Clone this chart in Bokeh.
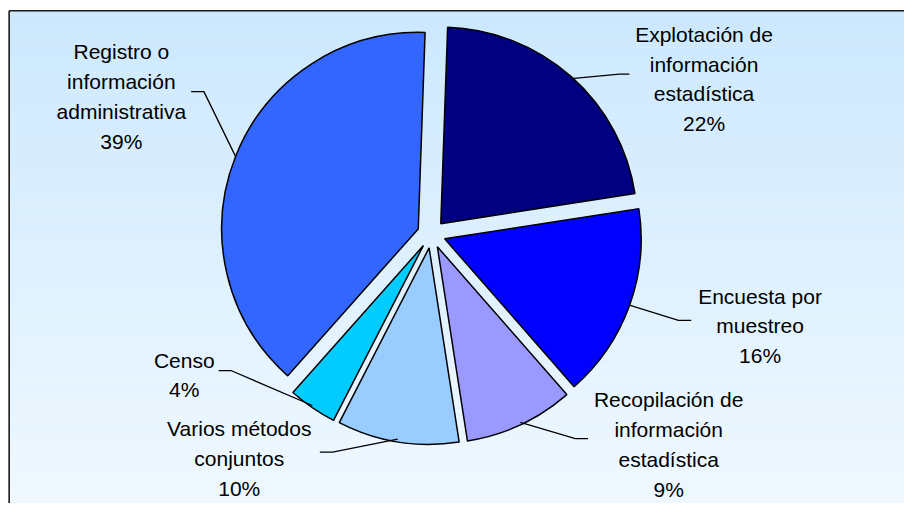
import numpy as np
from bokeh.plotting import figure
from bokeh.models import Range1d, ColumnDataSource
from bokeh.core.properties import value
from bokeh.embed import file_html
from bokeh.resources import INLINE

# ---------------- data ----------------
categories = [
    "Explotación de información estadística",
    "Encuesta por muestreo",
    "Recopilación de información estadística",
    "Varios métodos conjuntos",
    "Censo",
    "Registro o información administrativa",
]
label_lines = [
    ["Explotación de", "información", "estadística"],
    ["Encuesta por", "muestreo"],
    ["Recopilación de", "información", "estadística"],
    ["Varios métodos", "conjuntos"],
    ["Censo"],
    ["Registro o", "información", "administrativa"],
]
values = [22, 16, 9, 10, 4, 39]
colors = ["#000080", "#0000FF", "#9999FF", "#99CCFF", "#00CCFF", "#3366FF"]

# ---------------- layout (in units of the 920x519 chart image) ----------------
RW, RH = 920, 519          # chart image units
W, H = 904, 503            # figure size in px (fits the window)


def X(sx):
    return sx


def Y(sy):
    return RH - sy


CX, CY = 438.5, 241.0   # pie centre
R = 200.0
EXPLODE = 14.4
FIRST_ANGLE = 2.0
FONT = "Liberation Sans"
FS = "21px"
LINE_STEP = 30.7

# label centre x and first baseline, leader elbow and end
label_pos = [(716, 35), (773, 305), (680, 412), (243, 442), (187, 371), (123, 53)]
leader_elbow = [(630, 76), (690, 330), (585, 452), (338, 466), (235, 382), (207, 94)]
leader_end = [(640, 76), (703, 330), (598, 452), (325, 466), (222, 382), (194, 94)]

p = figure(width=W, height=H, output_backend="svg", toolbar_location=None,
           x_range=Range1d(0, RW), y_range=Range1d(0, RH), min_border=0,
           background_fill_color="white", border_fill_color="white")
p.axis.visible = False
p.grid.visible = False
p.outline_line_color = None

# ---------------- gradient background of the chart area ----------------
top_c = np.array([0xCC, 0xE8, 0xFE], dtype=float)
bot_c = np.array([0xEF, 0xF8, 0xFF], dtype=float)
n = 120
edges = np.linspace(10.5, RH + 2, n + 1)
cols = []
for i in range(n):
    t = i / (n - 1)
    c = top_c + (bot_c - top_c) * t
    cols.append("#%02x%02x%02x" % tuple(int(round(v)) for v in c))
p.quad(left=X(8.8), right=X(RW + 2), top=[Y(e) + 0.3 for e in edges[:-1]],
       bottom=[Y(e) for e in edges[1:]], fill_color=cols, line_color=None)
# chart border (left and top visible)
p.multi_line(xs=[[X(8.8), X(8.8)], [X(8.8), X(RW + 2)]],
             ys=[[Y(10.5), Y(RH + 5)], [Y(10.5), Y(10.5)]],
             line_color="#1a1a1a", line_width=1.6)

# ---------------- pie ----------------
vals = np.array(values, dtype=float)
spans = vals / vals.sum() * 360.0
starts = FIRST_ANGLE + np.concatenate([[0.0], np.cumsum(spans)[:-1]])
ends = starts + spans
mids = (starts + ends) / 2.0
mr = np.radians(mids)
wx = X(CX) + EXPLODE * np.sin(mr)
wy = Y(CY) + EXPLODE * np.cos(mr)

src = ColumnDataSource(dict(x=wx, y=wy, start=90.0 - ends, end=90.0 - starts,
                            color=colors, name=categories))
p.wedge(x="x", y="y", radius=R, start_angle="start", end_angle="end",
        start_angle_units="deg", end_angle_units="deg", direction="anticlock",
        fill_color="color", line_color="black", line_width=1.5, source=src)

# ---------------- leader lines ----------------
lx, ly = [], []
for i in range(len(values)):
    ax = wx[i] + R * np.sin(mr[i])
    ay = wy[i] + R * np.cos(mr[i])
    lx.append([ax, X(leader_elbow[i][0]), X(leader_end[i][0])])
    ly.append([ay, Y(leader_elbow[i][1]), Y(leader_end[i][1])])
p.multi_line(xs=lx, ys=ly, line_color="black", line_width=1.3)

# ---------------- labels ----------------
tx, ty, tt = [], [], []
for i in range(len(values)):
    lines = label_lines[i] + [f"{values[i]}%"]
    cx, by = label_pos[i]
    for j, s in enumerate(lines):
        tx.append(X(cx))
        ty.append(Y(by + j * LINE_STEP))
        tt.append(s)
p.text(x=tx, y=ty, text=tt, text_font=value(FONT), text_font_size=FS,
       text_color="black", text_align="center", text_baseline="alphabetic")

open("out.html", "w").write(file_html(p, INLINE))
